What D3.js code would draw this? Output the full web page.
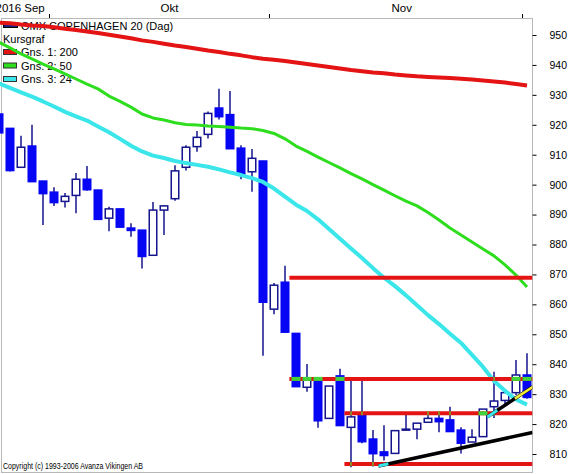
<!DOCTYPE html>
<html><head><meta charset="utf-8">
<script src="https://cdn.jsdelivr.net/npm/d3@7"></script>
<style>
body{margin:0;background:#fff}
svg{display:block}
text{font-family:"Liberation Sans",Arial,sans-serif;fill:#000}
</style>
</head><body>
<svg id="c" width="568" height="474"></svg>
<script>
// ---------------- DATA ----------------
const dates = [
 "2016-09-12","2016-09-13","2016-09-14","2016-09-15","2016-09-16","2016-09-19","2016-09-20","2016-09-21","2016-09-22","2016-09-23",
 "2016-09-26","2016-09-27","2016-09-28","2016-09-29","2016-09-30",
 "2016-10-03","2016-10-04","2016-10-05","2016-10-06","2016-10-07","2016-10-10","2016-10-11","2016-10-12","2016-10-13","2016-10-14",
 "2016-10-17","2016-10-18","2016-10-19","2016-10-20","2016-10-21","2016-10-24","2016-10-25","2016-10-26","2016-10-27","2016-10-28","2016-10-31",
 "2016-11-01","2016-11-02","2016-11-03","2016-11-04","2016-11-07","2016-11-08","2016-11-09","2016-11-10","2016-11-11","2016-11-14",
 "2016-11-15","2016-11-16","2016-11-17"];
const open  = [923.6,918.8,905.8,912.9,901.2,897.5,894.4,896.4,901.8,898.2,888.8,891.9,885.5,884.8,876.4,891.5,895.3,905.8,912.7,916.8,
               925.6,923.4,912.2,904.3,907.9,858.4,867.4,850.3,832.3,835.2,821.9,836.1,818.9,823.4,815.0,810.7,810.2,818.0,818.3,820.6,
               821.9,821.4,818.0,814.0,815.8,825.8,827.9,830.5,836.4];
const high  = [924.2,918.8,916.3,920.0,901.2,899.1,897.2,903.9,906.2,898.2,892.6,891.9,887.1,884.8,894.2,893.2,906.5,913.2,917.9,924.4,
               932.0,931.3,913.2,911.9,907.9,867.1,872.9,850.3,840.1,835.2,832.7,838.5,834.7,834.9,818.0,819.6,817.8,823.4,820.3,824.0,
               823.9,825.8,818.9,818.3,825.0,837.5,830.5,841.4,843.7];
const low   = [917.0,904.4,905.8,901.0,886.5,892.9,892.4,890.4,898.0,888.4,884.4,885.8,882.6,872.0,876.4,883.2,894.6,904.7,911.0,915.4,
               921.8,912.0,901.8,897.6,842.8,856.7,850.7,832.5,830.8,818.8,821.9,819.5,805.6,813.6,805.8,807.8,810.2,817.9,814.9,820.6,
               817.3,817.5,810.2,814.0,815.8,822.0,826.4,829.7,828.5];
const close = [917.3,904.7,912.5,901.0,897.0,894.0,896.1,901.8,898.3,888.4,891.9,885.8,884.7,876.0,891.5,892.9,904.6,912.5,915.8,923.8,
               922.7,912.0,903.5,908.8,860.7,866.4,850.7,832.5,835.3,821.1,832.7,819.5,822.4,814.1,810.1,809.5,817.8,818.3,820.3,821.9,
               820.8,817.5,813.6,815.6,825.0,827.7,830.5,836.4,828.9];
// moving averages
const ma200 = [954.1,953.9,953.5,953.2,953.0,952.6,952.1,951.7,951.2,950.7,950.1,949.5,948.9,948.2,947.7,947.1,946.5,946.0,945.4,944.8,
               944.3,943.7,943.2,942.6,942.1,941.7,941.3,940.8,940.3,939.8,939.3,938.8,938.3,937.9,937.5,937.2,936.8,936.5,936.2,936.0,
               935.8,935.6,935.4,935.1,934.8,934.5,934.1,933.6,933.1];
const ma50  = [947.6,945.7,943.7,942.0,940.3,938.7,937.0,935.3,933.6,932.0,929.6,927.8,925.9,923.6,922.3,921.6,920.7,920.1,919.9,919.6,
               919.4,919.2,918.9,918.7,918.1,917.1,915.3,912.9,911.1,909.2,907.4,905.6,903.7,901.9,900.0,898.2,896.3,894.5,892.9,890.7,
               888.2,885.5,883.2,880.8,878.5,876.2,873.2,869.8,865.8];
const ma24  = [933.8,932.3,930.8,929.4,927.8,926.1,924.3,922.8,921.4,919.4,917.5,915.3,913.0,911.1,909.7,908.9,907.9,907.2,906.6,906.0,
               905.1,904.1,903.2,902.2,900.9,898.7,896.0,893.3,891.2,888.4,885.2,881.9,878.7,875.5,872.1,868.9,866.1,863.0,859.7,856.4,
               853.4,850.2,847.1,843.1,839.1,834.4,831.1,828.2,826.5];
// horizontal support / resistance levels (value, starting candle position)
const levelValues = [868.9, 835.1, 823.6, 806.7];
const levelStarts = [26.4, 26.4, 31.4, 31.4];
// trend lines: start pos, start value, end pos, end value
const trendStartPos = [34.5, 44.4];
const trendStartVal = [806.0, 822.4];
const trendEndPos   = [48.5, 48.5];
const trendEndVal   = [817.2, 832.4];
const yTickValues = [810,820,830,840,850,860,870,880,890,900,910,920,930,940,950];
const monthLabelDates = ["2016-09-12","2016-10-03","2016-11-01"];
const monthLabels = ["2016 Sep","Okt","Nov"];
const tickAfterDates = ["2016-09-16","2016-10-14","2016-11-16"];
const legendNames = ["Gns. 1: 200","Gns. 2: 50","Gns. 3: 24"];
const titleText = "OMX COPENHAGEN 20 (Dag)";
const subTitle = "Kursgraf";
const copyright = "Copyright (c) 1993-2006 Avanza Vikingen AB";

// ---------------- CHART ----------------
const svg = d3.select("#c");
const W = 568, H = 474;
const plotL = 1.5, plotR = 532.5, plotT = 18.5, plotB = 472.5;

const x = d3.scaleBand().domain(dates).range([-6.5, 532.5]).paddingInner(0.18).paddingOuter(0.09);
const bw = x.bandwidth(), step = x.step();
const xc = i => x(dates[i]) + bw / 2;
const xf = t => x(dates[0]) + bw / 2 + t * step;
const y = d3.scaleLinear().domain([810, 950]).range([454, 35]);

const colRed = "#e41414", colGreen = "#2ede1e", colCyan = "#3ae6ea";

svg.append("defs").append("clipPath").attr("id","clip")
  .append("rect").attr("x", 0).attr("y", plotT).attr("width", plotR - 0).attr("height", plotB - plotT);

// border
svg.append("rect").attr("x", plotL).attr("y", plotT).attr("width", plotR - plotL).attr("height", plotB - plotL - plotT + 1.5)
  .attr("fill", "none").attr("stroke", "#b8b8b8").attr("stroke-width", 1);

// top month labels and ticks
svg.selectAll("text.month").data(monthLabels).join("text")
  .attr("x", (d, i) => x(monthLabelDates[i]) + 1).attr("y", 12)
  .attr("font-size", 11.5).text(d => d);
svg.selectAll("line.mtick").data(tickAfterDates).join("line")
  .attr("x1", d => Math.round(x(d) + bw + (step - bw) / 2) + 0.5)
  .attr("x2", d => Math.round(x(d) + bw + (step - bw) / 2) + 0.5)
  .attr("y1", 14).attr("y2", 18).attr("stroke", "#000").attr("stroke-width", 1);

// right axis
const yAxis = d3.axisRight(y).tickValues(yTickValues).tickSize(4).tickPadding(13).tickFormat(d3.format("d"));
const ga = svg.append("g").attr("transform", `translate(${plotR},0)`).call(yAxis);
ga.select(".domain").remove();
ga.selectAll("text").attr("font-size", 10.5).attr("font-family", '"Liberation Sans",Arial,sans-serif');
ga.selectAll("line").attr("stroke", "#000");

// legend
const lg = svg.append("g");
lg.append("rect").attr("x", 3.5).attr("y", 22.5).attr("width", 14).attr("height", 5).attr("fill", "#1c1c86").attr("stroke", "#000");
lg.append("text").attr("x", 21).attr("y", 29.5).attr("font-size", 11).text(titleText);
lg.append("text").attr("x", 3).attr("y", 43).attr("font-size", 11).text(subTitle);
const legCols = [colRed, colGreen, colCyan];
legendNames.forEach((n, i) => {
  lg.append("rect").attr("x", 3.5).attr("y", 49.5 + i * 13.5).attr("width", 13).attr("height", 5)
    .attr("fill", legCols[i]).attr("stroke", "#333");
  lg.append("text").attr("x", 21).attr("y", 56 + i * 13.5).attr("font-size", 11).text(n);
});

const plot = svg.append("g").attr("clip-path", "url(#clip)");

// candles
const idx = d3.range(dates.length);
const wickCol = "#14148e";
plot.selectAll("line.wick").data(idx).join("line")
  .attr("x1", i => xc(i)).attr("x2", i => xc(i))
  .attr("y1", i => y(high[i])).attr("y2", i => y(low[i]))
  .attr("stroke", wickCol).attr("stroke-width", 1.5);
plot.selectAll("rect.body").data(idx).join("rect")
  .attr("x", i => x(dates[i]) + 0.75).attr("width", bw - 1.5)
  .attr("y", i => y(Math.max(open[i], close[i])))
  .attr("height", i => Math.max(1, Math.abs(y(open[i]) - y(close[i]))))
  .attr("fill", i => close[i] < open[i] ? "#0606f4" : "#fff")
  .attr("stroke", i => close[i] < open[i] ? "#0606f4" : wickCol)
  .attr("stroke-width", 1.5);

// moving averages
const lineGen = d3.line().x((d, i) => xc(i)).y(d => y(d));
[[ma200, colRed, 4], [ma50, colGreen, 3], [ma24, colCyan, 4]].forEach(([arr, c, w]) => {
  plot.append("path").attr("d", lineGen(arr)).attr("fill", "none").attr("stroke", c)
    .attr("stroke-width", w).attr("stroke-linejoin", "round");
});

// horizontal levels
levelValues.forEach((v, k) => {
  plot.append("line").attr("x1", xf(levelStarts[k])).attr("x2", plotR)
    .attr("y1", y(v)).attr("y2", y(v)).attr("stroke", colRed).attr("stroke-width", 4);
  idx.filter(i => i >= levelStarts[k]).forEach(i => {
    const bt = Math.max(open[i], close[i]), bb = Math.min(open[i], close[i]);
    if (v <= bt && v >= bb) {
      plot.append("rect").attr("x", x(dates[i])).attr("width", bw).attr("y", y(v) - 2).attr("height", 4).attr("fill", "#3ed43a");
    } else if (v <= high[i] && v >= low[i]) {
      plot.append("rect").attr("x", xc(i) - 1).attr("width", 2).attr("y", y(v) - 2).attr("height", 4).attr("fill", "#8c8a22");
    }
  });
});

// trend lines
trendStartPos.forEach((p, k) => {
  plot.append("line").attr("x1", xf(p)).attr("y1", y(trendStartVal[k]))
    .attr("x2", xf(trendEndPos[k])).attr("y2", y(trendEndVal[k]))
    .attr("stroke", "#000").attr("stroke-width", 3.5);
  // highlight at start
  const f = 0.9 / (trendEndPos[k] - p);
  plot.append("line").attr("x1", xf(p)).attr("y1", y(trendStartVal[k]))
    .attr("x2", xf(p + 0.9)).attr("y2", y(trendStartVal[k] + (trendEndVal[k] - trendStartVal[k]) * f))
    .attr("stroke", colCyan).attr("stroke-width", 3);
});
// yellow end segment on short trend line
{
  const k = 1, p0 = 46.9;
  const t = (p0 - trendStartPos[k]) / (trendEndPos[k] - trendStartPos[k]);
  plot.append("line").attr("x1", xf(p0)).attr("y1", y(trendStartVal[k] + (trendEndVal[k] - trendStartVal[k]) * t))
    .attr("x2", xf(trendEndPos[k])).attr("y2", y(trendEndVal[k]))
    .attr("stroke", "#f2ea3a").attr("stroke-width", 2.5);
}

// copyright
svg.append("text").attr("x", 3).attr("y", 469).attr("font-size", 9)
  .attr("font-family", '"Liberation Serif","Times New Roman",serif')
  .attr("textLength", 140).attr("lengthAdjust", "spacingAndGlyphs").text(copyright);
</script>
</body></html>
